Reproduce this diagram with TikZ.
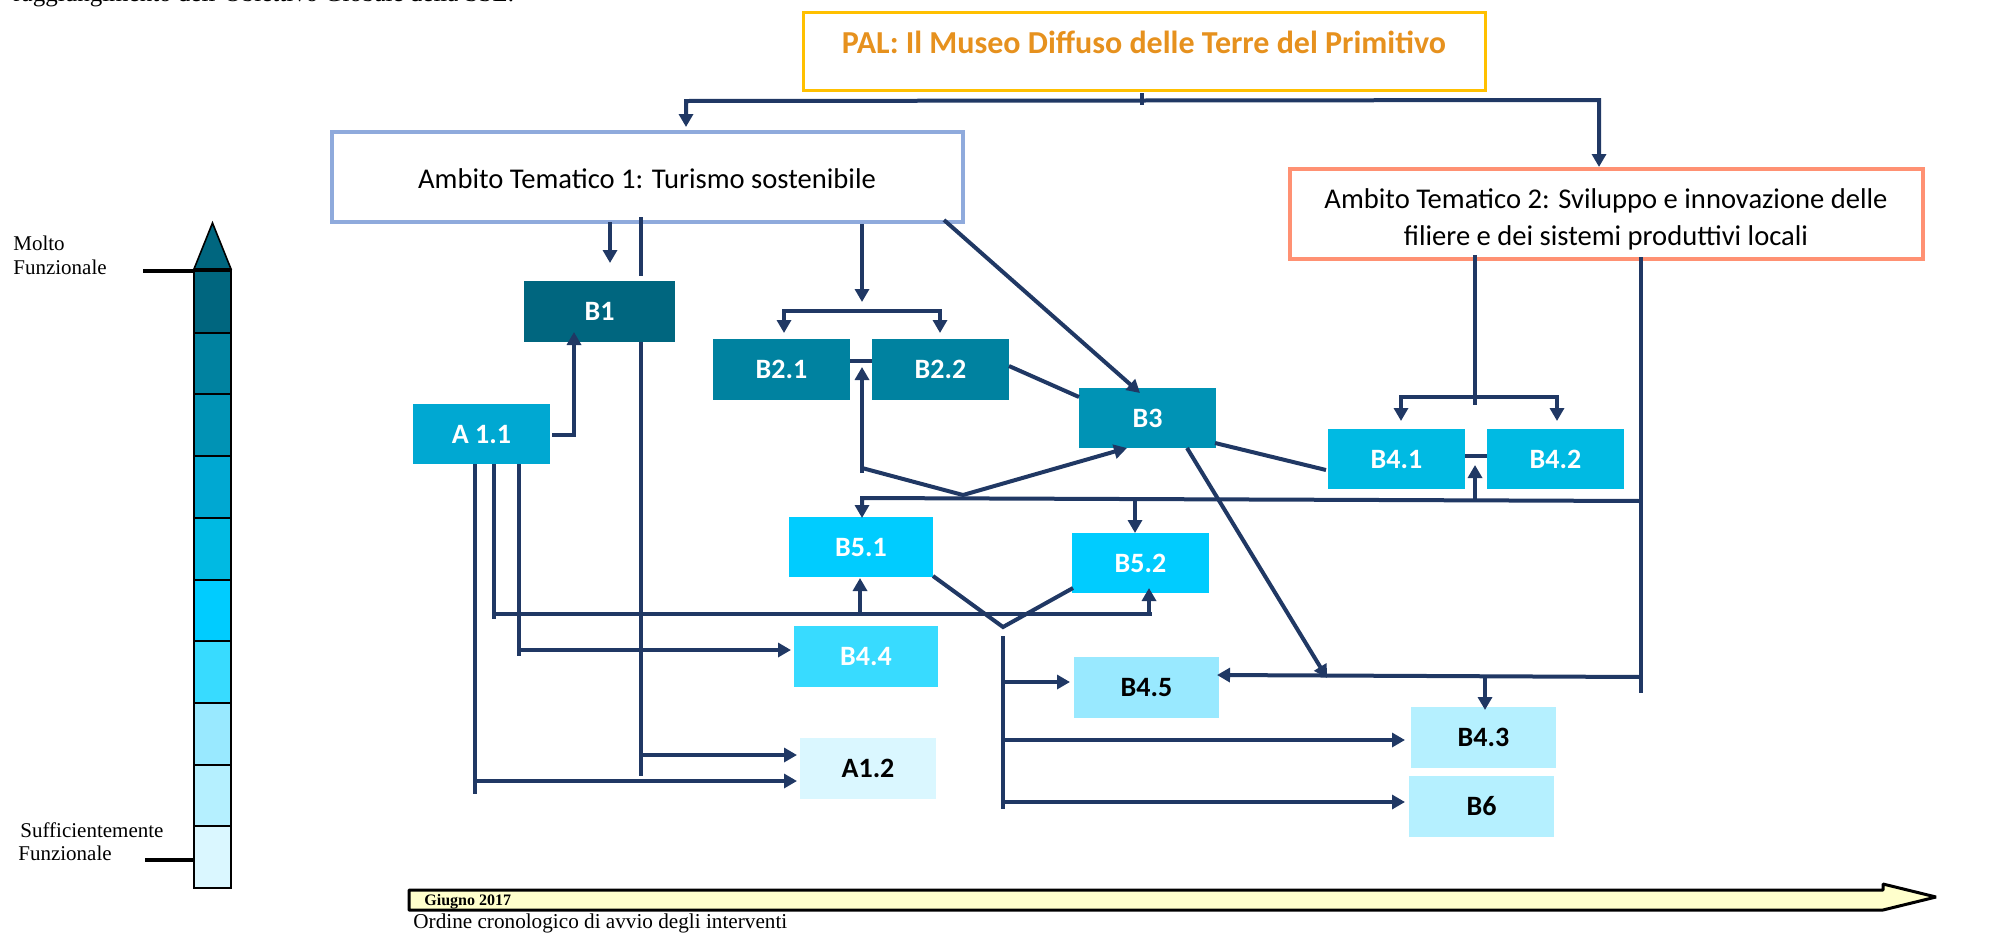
\documentclass[tikz,border=0pt]{standalone}
\usepackage{fontspec}
\setmainfont{Liberation Serif}
\newfontfamily\calfont{Carlito}
\usetikzlibrary{arrows.meta,calc}
\definecolor{navy}{RGB}{32,56,100}
\definecolor{cBa}{RGB}{0,102,127}
\definecolor{cBb}{RGB}{0,130,160}
\definecolor{cBc}{RGB}{0,147,181}
\definecolor{cAa}{RGB}{0,168,210}
\definecolor{cBd}{RGB}{0,186,227}
\definecolor{cBe}{RGB}{0,204,255}
\definecolor{cBf}{RGB}{56,219,255}
\definecolor{cBg}{RGB}{153,233,255}
\definecolor{cBh}{RGB}{181,240,255}
\definecolor{cAb}{RGB}{218,247,255}
\definecolor{palor}{RGB}{230,145,30}
\definecolor{palbd}{RGB}{255,192,0}
\definecolor{atabd}{RGB}{143,170,220}
\definecolor{atbbd}{RGB}{255,145,115}
\definecolor{tlfill}{RGB}{255,255,204}
\begin{document}
\begin{tikzpicture}[x=0.5pt,y=-0.5pt,
  cn/.style={draw=navy,line width=2pt},
  ar/.style={cn,-{Triangle[length=6.5pt,width=7pt]}},
  arr2/.style={cn,{Triangle[length=6.5pt,width=7pt]}-{Triangle[length=6.5pt,width=7pt]}},
  bx/.style={inner sep=0pt,draw=none,font=\calfont\fontsize{14}{16}\selectfont\bfseries,text=white},
  wd/.style={minimum width=#1*0.5pt},
  ht/.style={minimum height=#1*0.5pt},
  serif/.style={inner sep=0pt,anchor=base west,font=\fontsize{10.5}{12}\selectfont},
  attext/.style={inner sep=0pt,anchor=base,font=\calfont\fontsize{14.3}{16}\selectfont},
]
\useasboundingbox (0,0) rectangle (1996,932);

% cut-off text at the top (as in the reference)
\node[inner sep=0pt,anchor=base west,font=\fontsize{12.5}{14}\selectfont] (toptext) at (13,1.5) {raggiungimento dell'Obiettivo Globale della SSL.};

% header boxes
\node[draw=palbd,line width=1.5pt,inner sep=0pt,wd=682,ht=78] (pal) at (1144,51) {};
\node[inner sep=0pt,anchor=base,text=palor,font=\calfont\fontsize{16}{18}\selectfont\bfseries] (paltext) at (1144,53) {PAL: Il Museo Diffuso delle Terre del Primitivo};
\node[draw=atabd,line width=2pt,inner sep=0pt,wd=631,ht=90] (ata) at (647.5,177) {};
\node[attext] (atatext) at (647,188) {Ambito Tematico 1: Turismo sostenibile};
\node[draw=atbbd,line width=2pt,inner sep=0pt,wd=633,ht=90] (atb) at (1606.5,214) {};
\node[attext] (atbtexta) at (1606,208) {Ambito Tematico 2: Sviluppo e innovazione delle};
\node[attext] (atbtextb) at (1606,245) {filiere e dei sistemi produttivi locali};

% intervention boxes
\node[bx,fill=cBa,wd=151,ht=61] (b1) at (599.5,311.5) {B1};
\node[bx,fill=cAa,wd=137,ht=60] (a11) at (481.5,434) {A 1.1};
\node[bx,fill=cBb,wd=137,ht=61] (b21) at (781.5,369.5) {B2.1};
\node[bx,fill=cBb,wd=137,ht=61] (b22) at (940.5,369.5) {B2.2};
\node[bx,fill=cBc,wd=137,ht=60] (b3) at (1147.5,418) {B3};
\node[bx,fill=cBd,wd=137,ht=60] (b41) at (1396.5,459) {B4.1};
\node[bx,fill=cBd,wd=137,ht=60] (b42) at (1555.5,459) {B4.2};
\node[bx,fill=cBe,wd=144,ht=60] (b51) at (861,547) {B5.1};
\node[bx,fill=cBe,wd=137,ht=60] (b52) at (1140.5,563) {B5.2};
\node[bx,fill=cBf,wd=144,ht=61] (b44) at (866,656.5) {B4.4};
\node[bx,fill=cBg,wd=145,ht=61,text=black] (b45) at (1146.5,687.5) {B4.5};
\node[bx,fill=cAb,wd=136,ht=61,text=black] (a12) at (868,768.5) {A1.2};
\node[bx,fill=cBh,wd=145,ht=61,text=black] (b43) at (1483.5,737.5) {B4.3};
\node[bx,fill=cBh,wd=145,ht=61,text=black] (b6) at (1481.5,806.5) {B6};

% junction coordinates
\coordinate (tka) at (1142,93); \coordinate (tkb) at (1142,105);
\coordinate (hl) at (686,101); \coordinate (hr) at (1599,100);
\coordinate (hla) at (686,127); \coordinate (hra) at (1599,167);
\coordinate (pa) at (610,222); \coordinate (pb) at (610,263);
\coordinate (qa) at (641,217); \coordinate (qb) at (641,276);
\coordinate (qc) at (641,342); \coordinate (qd) at (641,776);
\coordinate (qe) at (641,755); \coordinate (qf) at (797,755);
\coordinate (ra) at (862,224); \coordinate (rb) at (862,302);
\coordinate (rc) at (784,333); \coordinate (rd) at (784,311);
\coordinate (re) at (940,311); \coordinate (rf) at (940,333);
\coordinate (sa) at (850,361); \coordinate (sb) at (872,361);
\coordinate (ua) at (944,220); \coordinate (ub) at (1140,393);
\coordinate (va) at (1009,366); \coordinate (vb) at (1079,397);
\coordinate (wa) at (862,473); \coordinate (wb) at (862,367);
\coordinate (wc) at (862,468); \coordinate (wd) at (963,495); \coordinate (we) at (1127,448);
\coordinate (xa) at (1641,501); \coordinate (xb) at (862,498); \coordinate (xc) at (862,518);
\coordinate (xd) at (1135,500); \coordinate (xe) at (1135,533);
\coordinate (xf) at (1475,501); \coordinate (xg) at (1475,465);
\coordinate (ya) at (1641,257); \coordinate (yb) at (1641,693);
\coordinate (yc) at (1641,677); \coordinate (yd) at (1217,675);
\coordinate (ye) at (1485,676); \coordinate (yf) at (1485,710);
\coordinate (za) at (1475,255); \coordinate (zb) at (1475,405);
\coordinate (zc) at (1401,421); \coordinate (zd) at (1401,397);
\coordinate (ze) at (1557,397); \coordinate (zf) at (1557,421);
\coordinate (zg) at (1465,456); \coordinate (zh) at (1487,456);
\coordinate (ka) at (1215,443); \coordinate (kb) at (1326,470);
\coordinate (kc) at (1187,448); \coordinate (kd) at (1327,678);
\coordinate (ma) at (552,435); \coordinate (mb) at (574,435); \coordinate (mc) at (574,332);
\coordinate (na) at (475,464); \coordinate (nb) at (475,794);
\coordinate (nc) at (475,781); \coordinate (nd) at (797,781);
\coordinate (oa) at (494,464); \coordinate (ob) at (494,619);
\coordinate (oc) at (494,614); \coordinate (od) at (1152,614);
\coordinate (oe) at (860,614); \coordinate (of) at (860,578);
\coordinate (og) at (1149,614); \coordinate (oh) at (1149,588);
\coordinate (la) at (519,464); \coordinate (lb) at (519,656);
\coordinate (lc) at (519,650); \coordinate (ld) at (791,650);
\coordinate (ga) at (933,576); \coordinate (gb) at (1003,627); \coordinate (gc) at (1073,588);
\coordinate (gd) at (1003,636); \coordinate (ge) at (1003,809);
\coordinate (gf) at (1003,682); \coordinate (gg) at (1070,682);
\coordinate (gh) at (1003,740); \coordinate (gi) at (1405,740);
\coordinate (gj) at (1003,802); \coordinate (gk) at (1405,802);

% connectors
\draw[cn] (tka) -- (tkb);
\draw[arr2] (hla) -- (hl) -- (hr) -- (hra);
\draw[ar] (pa) -- (pb);
\draw[cn] (qa) -- (qb);
\draw[cn] (qc) -- (qd);
\draw[ar] (qe) -- (qf);
\draw[ar] (ra) -- (rb);
\draw[arr2] (rc) -- (rd) -- (re) -- (rf);
\draw[cn] (sa) -- (sb);
\draw[ar] (ua) -- (ub);
\draw[cn] (va) -- (vb);
\draw[ar] (wa) -- (wb);
\draw[ar] (wc) -- (wd) -- (we);
\draw[ar] (xa) -- (xb) -- (xc);
\draw[ar] (xd) -- (xe);
\draw[ar] (xf) -- (xg);
\draw[cn] (ya) -- (yb);
\draw[ar] (yc) -- (yd);
\draw[ar] (ye) -- (yf);
\draw[cn] (za) -- (zb);
\draw[arr2] (zc) -- (zd) -- (ze) -- (zf);
\draw[cn] (zg) -- (zh);
\draw[cn] (ka) -- (kb);
\draw[ar] (kc) -- (kd);
\draw[ar] (ma) -- (mb) -- (mc);
\draw[cn] (na) -- (nb);
\draw[ar] (nc) -- (nd);
\draw[cn] (oa) -- (ob);
\draw[cn] (oc) -- (od);
\draw[ar] (oe) -- (of);
\draw[ar] (og) -- (oh);
\draw[cn] (la) -- (lb);
\draw[ar] (lc) -- (ld);
\draw[cn] (ga) -- (gb) -- (gc);
\draw[cn] (gd) -- (ge);
\draw[ar] (gf) -- (gg);
\draw[ar] (gh) -- (gi);
\draw[ar] (gj) -- (gk);

% functional scale
\foreach \i/\c in {0/cBa,1/cBb,2/cBc,3/cAa,4/cBd,5/cBe,6/cBf,7/cBg,8/cBh,9/cAb}
  \draw[black,line width=1pt,fill=\c] (194,{271+61.7*\i}) rectangle (231,{271+61.7*(\i+1)});
\draw[black,line width=0.8pt,fill=cBa] (194,269) -- (212.5,223) -- (231,269) -- cycle;
\draw[black,line width=2pt] (143,271) -- (194,271);
\draw[black,line width=2pt] (145,860) -- (194,860);
\node[serif] (molto) at (13,250) {Molto};
\node[serif] (funza) at (13,274) {Funzionale};
\node[serif] (suff) at (20,837) {Sufficientemente};
\node[serif] (funzb) at (18,860) {Funzionale};

% timeline
\draw[black,line width=1.5pt,fill=tlfill,line join=bevel] (409,890) -- (1883,890) -- (1883,884) -- (1936,897) -- (1883,910) -- (409,910) -- cycle;
\node[inner sep=0pt,anchor=base west,font=\fontsize{8}{9}\selectfont\bfseries] (giugno) at (424,905) {Giugno 2017};
\node[serif,font=\fontsize{10.6}{12}\selectfont] (ordine) at (413,928) {Ordine cronologico di avvio degli interventi};
\end{tikzpicture}
\end{document}
